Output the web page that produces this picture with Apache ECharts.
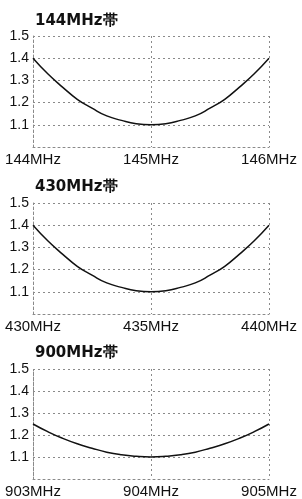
<!DOCTYPE html>
<html>
<head>
<meta charset="utf-8">
<script src="https://cdn.jsdelivr.net/npm/echarts@6/dist/echarts.min.js"></script>
<style>
html, body { margin: 0; padding: 0; background: #fff; }
#chart { width: 302px; height: 499px; }
</style>
</head>
<body>
<div id="chart"></div>
<script>
// band titles
var bandNames = ['144MHz帯', '430MHz帯', '900MHz帯'];

// frequencies (MHz) and SWR
var freq144 = [144, 144.125, 144.25, 144.375, 144.5, 144.625, 144.75, 144.875, 145,
               145.125, 145.25, 145.375, 145.5, 145.625, 145.75, 145.875, 146];
var swr144 = [1.40, 1.33, 1.27, 1.215, 1.175, 1.14, 1.12, 1.105, 1.10,
              1.105, 1.12, 1.14, 1.175, 1.215, 1.27, 1.33, 1.40];

var freq430 = [430, 430.625, 431.25, 431.875, 432.5, 433.125, 433.75, 434.375, 435,
               435.625, 436.25, 436.875, 437.5, 438.125, 438.75, 439.375, 440];
var swr430 = [1.40, 1.33, 1.27, 1.215, 1.175, 1.14, 1.12, 1.105, 1.10,
              1.105, 1.12, 1.14, 1.175, 1.215, 1.27, 1.33, 1.40];

var freq900 = [903, 903.125, 903.25, 903.375, 903.5, 903.625, 903.75, 903.875, 904,
               904.125, 904.25, 904.375, 904.5, 904.625, 904.75, 904.875, 905];
var swr900 = [1.25, 1.215, 1.185, 1.16, 1.14, 1.122, 1.11, 1.103, 1.10,
              1.103, 1.11, 1.122, 1.14, 1.16, 1.185, 1.215, 1.25];

// x range / tick step per band
var xMin = [144, 430, 903];
var xMax = [146, 440, 905];
var xStep = [1, 5, 1];

var yTicks = [1.0, 1.1, 1.2, 1.3, 1.4, 1.5];

var gridTops = [36, 203, 369];
var titleTops = [14, 180, 346];

var freqs = [freq144, freq430, freq900];
var swrs = [swr144, swr430, swr900];

var myChart = echarts.init(document.getElementById('chart'));

var dotLine = { color: '#8a8a8a', width: 1, type: [2, 3] };

var option = {
    backgroundColor: '#fff',
    animation: false,
    title: [],
    grid: [],
    xAxis: [],
    yAxis: [],
    series: []
};

for (var i = 0; i < 3; i++) {
    option.title.push({
        text: bandNames[i],
        left: 35,
        top: titleTops[i],
        padding: 0,
        textStyle: { fontFamily: 'DejaVu Sans', fontSize: 15, fontWeight: 'bold', color: '#111' }
    });
    option.grid.push({ left: 33, right: 33, top: gridTops[i], height: 111 });
    option.xAxis.push({
        type: 'value',
        gridIndex: i,
        min: xMin[i],
        max: xMax[i],
        interval: xStep[i],
        axisLine: { show: true, lineStyle: dotLine },
        axisTick: { show: false },
        axisLabel: {
            margin: 5,
            fontFamily: 'Liberation Sans',
            fontSize: 15,
            color: '#111',
            formatter: function (v) { return v + 'MHz'; }
        },
        splitLine: { show: true, lineStyle: dotLine }
    });
    option.yAxis.push({
        type: 'value',
        gridIndex: i,
        min: yTicks[0],
        max: yTicks[yTicks.length - 1],
        interval: 0.1,
        axisLine: { show: true, lineStyle: dotLine },
        axisTick: { show: false },
        axisLabel: {
            margin: 4,
            fontFamily: 'Liberation Sans',
            fontSize: 14,
            color: '#111',
            formatter: function (v) { return v <= 1.0001 ? '' : v.toFixed(1); }
        },
        splitLine: { show: true, lineStyle: dotLine }
    });
    var pts = [];
    for (var k = 0; k < freqs[i].length; k++) {
        pts.push([freqs[i][k], swrs[i][k]]);
    }
    option.series.push({
        type: 'line',
        xAxisIndex: i,
        yAxisIndex: i,
        smooth: true,
        symbol: 'none',
        lineStyle: { color: '#111', width: 1.5 },
        data: pts
    });
}

myChart.setOption(option);
</script>
</body>
</html>
